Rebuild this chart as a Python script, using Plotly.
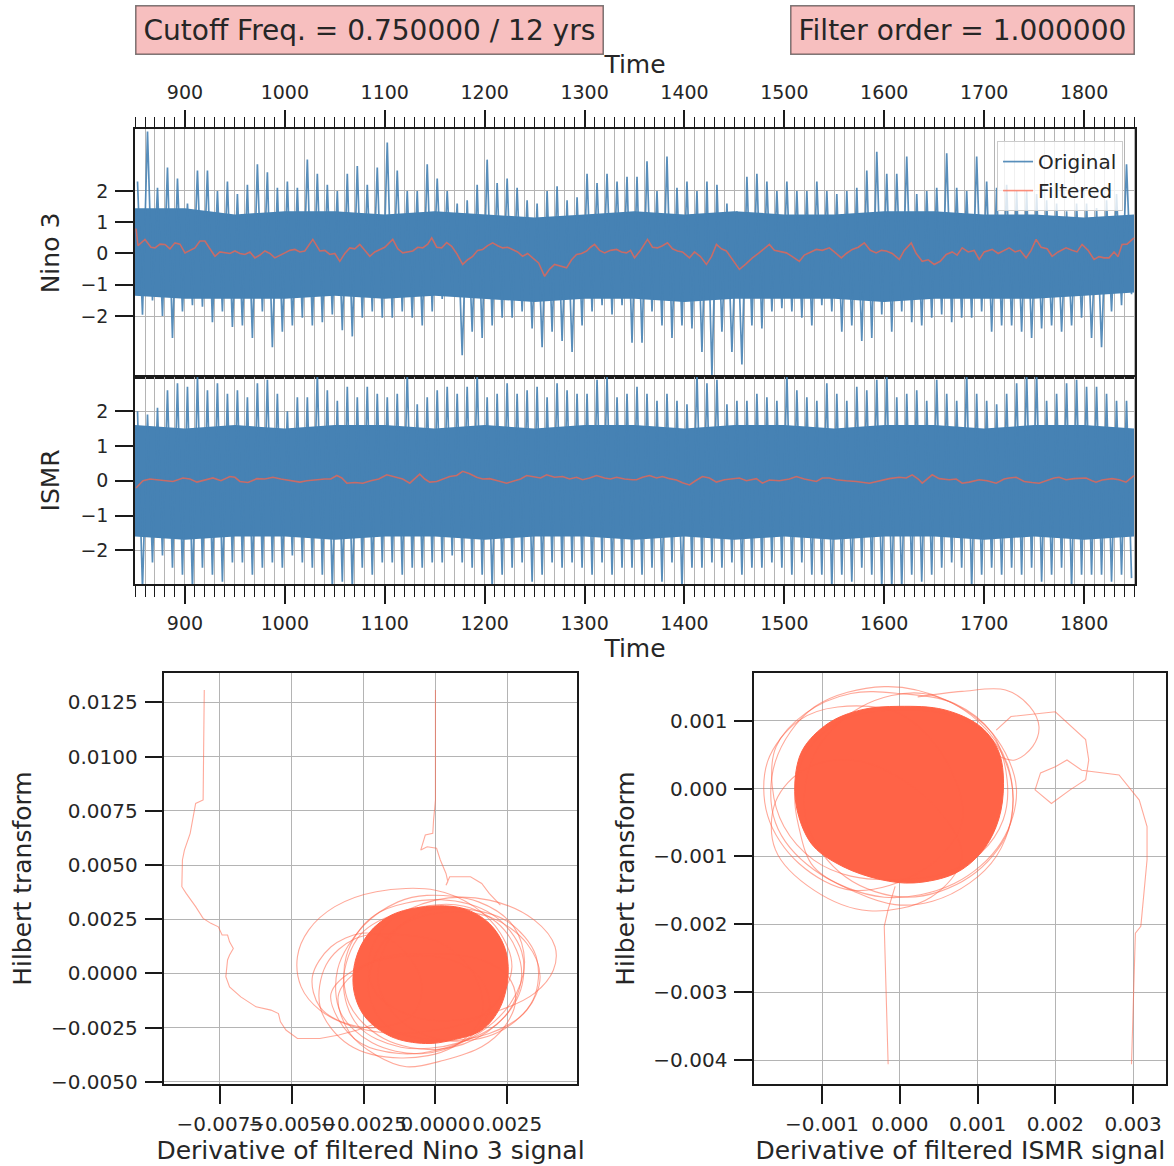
import plotly.graph_objects as go

# ---------------- data ----------------
decades = list(range(850, 1850, 10))

nino_hi = [2.3, 3.9, 2.1, 2.75, 2.4, 1.6, 2.65, 2.65, 2.0, 2.3,
           1.9, 2.2, 2.85, 2.6, 2.1, 2.3, 2.1, 3.0, 2.55, 2.2,
           2.0, 2.55, 2.8, 2.2, 2.75, 3.55, 2.65, 2.0, 2.0, 2.85,
           2.4, 2.0, 1.6, 1.7, 2.2, 3.0, 2.25, 2.4, 2.1, 1.7,
           1.6, 2.0, 2.15, 1.7, 1.8, 2.55, 2.25, 2.55, 2.3, 2.45,
           2.45, 2.95, 2.0, 3.1, 2.1, 2.3, 2.0, 2.3, 2.2, 1.6,
           1.35, 2.45, 2.55, 2.3, 2.0, 2.3, 2.0, 2.0, 2.3, 2.0,
           1.9, 2.0, 2.1, 2.65, 3.25, 2.55, 2.55, 3.1, 1.9, 2.0,
           2.1, 3.2, 2.1, 2.0, 3.1, 2.3, 2.1, 2.2, 2.0, 2.0,
           1.9, 1.7, 1.6, 1.35, 1.6, 1.6, 1.45, 1.7, 1.9, 2.85]
nino_lo = [-1.96, -1.5, -2.0, -2.7, -1.85, -1.65, -1.7, -2.2, -1.85, -2.35,
           -2.3, -2.7, -1.85, -3.0, -2.5, -2.3, -2.05, -2.3, -2.2, -1.95,
           -2.45, -2.65, -2.05, -1.85, -2.05, -2.05, -1.85, -2.05, -2.3, -1.85,
           -1.45, -1.2, -3.25, -2.5, -2.7, -2.3, -2.05, -2.05, -1.85, -2.4,
           -3.0, -2.5, -2.8, -3.15, -2.3, -1.85, -1.65, -1.95, -1.65, -2.85,
           -2.85, -1.85, -2.3, -2.7, -2.3, -2.4, -3.15, -3.9, -2.5, -3.15,
           -3.55, -2.3, -2.4, -1.85, -1.75, -1.85, -2.05, -2.3, -1.65, -1.85,
           -2.5, -2.3, -2.8, -2.7, -1.95, -2.5, -1.85, -2.2, -2.3, -2.05,
           -1.95, -2.2, -2.05, -2.05, -1.85, -2.5, -2.3, -2.3, -2.5, -2.7,
           -2.4, -2.3, -2.5, -2.3, -2.05, -2.7, -3.0, -1.85, -1.65, -1.3]

ismr_hi = [2.0, 1.9, 2.1, 2.6, 2.8, 2.7, 3.0, 2.6, 2.8, 2.5,
           2.6, 2.4, 2.8, 2.9, 2.5, 2.0, 2.4, 2.4, 3.1, 2.6,
           2.3, 2.7, 2.4, 2.7, 2.5, 2.4, 2.5, 3.1, 2.2, 2.4,
           2.6, 2.7, 2.5, 2.7, 3.1, 2.4, 2.5, 2.8, 2.5, 2.6,
           2.7, 2.4, 2.8, 2.6, 2.5, 2.5, 2.9, 3.0, 2.4, 2.5,
           2.7, 2.5, 2.3, 2.5, 2.3, 2.2, 3.1, 2.8, 2.9, 2.2,
           2.3, 2.3, 2.5, 2.4, 2.3, 3.1, 2.6, 2.4, 2.3, 2.8,
           2.5, 2.3, 2.7, 2.6, 2.9, 3.1, 2.4, 2.5, 2.6, 2.3,
           2.9, 2.5, 2.3, 3.1, 2.5, 2.3, 2.2, 2.5, 2.8, 3.1,
           3.1, 2.3, 2.5, 2.8, 2.9, 2.7, 2.7, 2.5, 2.3, 2.3]
ismr_lo = [-3.1, -2.35, -2.15, -2.5, -2.7, -3.1, -2.5, -2.7, -2.9, -2.35,
           -2.35, -2.7, -2.5, -2.35, -2.5, -2.15, -2.35, -2.5, -2.7, -3.1,
           -2.9, -3.1, -2.5, -2.7, -2.35, -2.35, -2.7, -2.5, -2.5, -2.35,
           -2.35, -2.15, -2.35, -2.5, -2.7, -3.1, -2.7, -2.5, -2.35, -2.9,
           -2.7, -2.35, -2.5, -2.35, -2.5, -2.7, -2.35, -2.7, -2.5, -2.5,
           -2.7, -2.5, -2.9, -2.35, -3.1, -2.5, -2.5, -2.35, -2.5, -2.35,
           -2.7, -2.5, -2.5, -2.35, -2.5, -2.7, -2.35, -2.7, -2.7, -3.1,
           -2.7, -2.9, -2.5, -2.7, -3.1, -3.1, -3.1, -2.7, -2.9, -2.7,
           -2.5, -2.35, -2.5, -3.1, -2.7, -2.5, -2.7, -2.5, -2.7, -2.5,
           -2.9, -2.7, -2.5, -3.1, -2.7, -2.7, -2.7, -2.9, -2.7, -2.8]

core_years = list(range(850, 1851, 50))
nino_core_hi = [1.45, 1.45, 1.25, 1.35, 1.35, 1.25, 1.35, 1.25, 1.15, 1.25, 1.35,
                1.25, 1.35, 1.25, 1.25, 1.35, 1.35, 1.25, 1.25, 1.15, 1.25]
nino_core_lo = [-1.35, -1.45, -1.45, -1.45, -1.35, -1.45, -1.35, -1.45, -1.55, -1.45, -1.45,
                -1.55, -1.45, -1.45, -1.45, -1.55, -1.45, -1.45, -1.45, -1.35, -1.25]
ismr_core_hi = [1.6, 1.5, 1.6, 1.5, 1.6, 1.6, 1.5, 1.6, 1.5, 1.6, 1.6,
                1.5, 1.6, 1.6, 1.5, 1.6, 1.6, 1.5, 1.6, 1.6, 1.5]
ismr_core_lo = [-1.6, -1.7, -1.6, -1.6, -1.7, -1.6, -1.6, -1.7, -1.6, -1.6, -1.7,
                -1.6, -1.7, -1.6, -1.7, -1.6, -1.6, -1.7, -1.6, -1.7, -1.6]

nino_f_years = [851, 853, 860, 866, 870, 875, 880, 885, 890, 895, 900, 905, 910, 915, 920, 925,
                930, 935, 940, 945, 950, 955, 960, 965, 970, 975, 980, 985, 990, 995, 1000,
                1005, 1010, 1015, 1020, 1028, 1035, 1040, 1045, 1050, 1055, 1060, 1065, 1070,
                1075, 1080, 1085, 1090, 1095, 1100, 1108, 1113, 1118, 1123, 1128, 1133, 1138,
                1143, 1147, 1152, 1157, 1162, 1167, 1172, 1178, 1183, 1188, 1193, 1198, 1203,
                1208, 1213, 1218, 1223, 1228, 1233, 1238, 1243, 1248, 1254, 1260, 1265, 1270,
                1276, 1282, 1287, 1292, 1297, 1302, 1306, 1310, 1315, 1320, 1326, 1332, 1337,
                1342, 1346, 1350, 1356, 1363, 1368, 1373, 1378, 1383, 1388, 1393, 1398, 1405,
                1410, 1416, 1422, 1427, 1432, 1437, 1442, 1448, 1455, 1461, 1468, 1474, 1480,
                1485, 1490, 1496, 1502, 1508, 1515, 1520, 1526, 1532, 1538, 1545, 1550, 1557,
                1562, 1568, 1574, 1580, 1586, 1592, 1597, 1602, 1608, 1615, 1620, 1627, 1632,
                1638, 1644, 1650, 1656, 1662, 1668, 1673, 1678, 1684, 1690, 1695, 1700, 1708,
                1714, 1720, 1725, 1731, 1736, 1742, 1747, 1752, 1757, 1763, 1768, 1774, 1782,
                1788, 1793, 1798, 1804, 1810, 1815, 1820, 1825, 1830, 1834, 1838, 1843, 1850]
nino_f_vals = [0.8, 0.25, 0.45, 0.2, 0.18, 0.3, 0.29, 0.15, 0.34, 0.3, 0.02, 0.1, 0.18, 0.4, 0.4, 0.15,
               -0.09, 0.05, 0.02, 0.0, 0.08, 0.0, -0.03, 0.05, -0.14, -0.05, 0.08, 0.0, -0.14, -0.05, 0.02,
               0.1, 0.13, 0.05, 0.08, 0.45, 0.08, 0.1, -0.03, 0.0, -0.25, 0.0, 0.18, 0.15,
               0.29, 0.1, -0.09, 0.05, 0.13, 0.2, 0.45, 0.15, 0.02, 0.05, 0.08, 0.2, 0.18,
               0.3, 0.5, 0.2, 0.18, 0.35, 0.23, 0.0, -0.35, -0.2, -0.09, 0.1, 0.13, 0.25,
               0.34, 0.25, 0.18, 0.2, 0.13, 0.05, -0.09, 0.0, -0.14, -0.3, -0.73, -0.5, -0.35,
               -0.4, -0.46, -0.2, -0.03, 0.0, 0.08, 0.2, 0.29, 0.1, 0.02, 0.1, 0.13, 0.05,
               0.02, 0.1, -0.14, 0.1, 0.45, 0.2, 0.18, 0.25, 0.34, 0.15, 0.08, 0.05, -0.14,
               0.05, -0.1, -0.35, -0.1, 0.29, 0.15, 0.08, -0.2, -0.51, -0.35, -0.14, 0.0, 0.15,
               0.29, 0.1, 0.05, 0.02, -0.1, -0.25, -0.05, 0.05, 0.13, 0.1, 0.18, 0.05, -0.14,
               0.0, 0.13, 0.2, 0.34, 0.1, 0.02, 0.1, 0.08, 0.0, -0.19, 0.1, 0.34, 0.0,
               -0.25, -0.2, -0.35, -0.25, -0.03, 0.05, -0.05, 0.18, 0.05, 0.1, -0.19, 0.05, 0.13,
               0.0, 0.1, 0.18, 0.05, 0.1, -0.14, 0.1, 0.45, 0.2, 0.15, -0.09, 0.05, 0.18,
               0.1, 0.05, 0.29, 0.1, -0.19, -0.1, -0.14, -0.14, 0.05, -0.1, 0.29, 0.3, 0.5]

ismr_f_years = [851, 858, 865, 872, 880, 888, 898, 905, 912, 920, 928, 936, 945, 950, 955, 963,
                972, 980, 988, 996, 1005, 1015, 1022, 1032, 1040, 1046, 1052, 1057, 1062, 1070,
                1078, 1086, 1094, 1102, 1110, 1118, 1125, 1130, 1135, 1140, 1145, 1152, 1158,
                1165, 1172, 1178, 1185, 1192, 1198, 1205, 1213, 1222, 1230, 1236, 1242, 1250,
                1256, 1262, 1270, 1278, 1285, 1292, 1298, 1305, 1312, 1320, 1326, 1332, 1340,
                1348, 1352, 1358, 1365, 1372, 1378, 1385, 1392, 1398, 1405, 1411, 1418, 1425,
                1432, 1440, 1448, 1455, 1462, 1472, 1478, 1485, 1495, 1505, 1512, 1520, 1532,
                1538, 1545, 1552, 1562, 1572, 1585, 1595, 1605, 1615, 1622, 1628, 1634, 1638,
                1643, 1648, 1655, 1665, 1672, 1678, 1685, 1695, 1703, 1712, 1720, 1725, 1732,
                1740, 1748, 1755, 1762, 1770, 1775, 1782, 1790, 1795, 1802, 1808, 1812, 1818,
                1828, 1835, 1842, 1850]
ismr_f_vals = [-0.21, 0.0, 0.05, 0.03, 0.0, -0.02, 0.08, 0.05, -0.04, 0.03, 0.08, 0.0, 0.12, 0.1, -0.02, -0.05,
               0.06, 0.05, 0.1, 0.05, 0.0, -0.04, 0.0, 0.03, 0.05, 0.05, 0.15, 0.08, -0.07, -0.05,
               -0.07, 0.0, 0.05, 0.17, 0.1, 0.05, -0.07, 0.05, 0.19, 0.05, -0.04, -0.02, 0.05,
               0.12, 0.15, 0.27, 0.2, 0.1, 0.05, 0.06, 0.0, -0.07, 0.0, 0.05, 0.15, 0.1,
               0.08, 0.17, 0.1, 0.12, 0.05, 0.1, 0.03, 0.08, 0.15, 0.08, 0.05, 0.1, 0.05,
               0.03, 0.03, 0.1, 0.15, 0.08, 0.12, 0.06, 0.02, -0.06, -0.12, 0.0, 0.12, 0.08,
               -0.04, 0.03, 0.05, 0.08, 0.0, 0.06, -0.07, 0.02, 0.0, 0.05, 0.12, 0.05, -0.02,
               0.08, 0.08, 0.03, 0.0, -0.02, -0.07, 0.0, 0.06, 0.1, 0.08, 0.17, 0.05, -0.07,
               0.05, 0.17, 0.06, 0.03, 0.05, -0.07, -0.04, 0.03, 0.0, -0.07, 0.05, 0.08, 0.1,
               -0.02, -0.05, -0.07, 0.0, 0.08, 0.1, 0.03, 0.06, 0.06, 0.08, 0.0, -0.04, 0.02,
               0.06, 0.03, -0.04, 0.15]

# phase plot (left): tails, loops and dense core
nl_tail1_x = [-0.00804, -0.00808, -0.00834, -0.00840, -0.00853, -0.00873, -0.00880, -0.00882,
              -0.00867, -0.00834, -0.00808, -0.00781, -0.00755, -0.00742, -0.00723, -0.00716,
              -0.00703, -0.00716, -0.00723, -0.00729, -0.00716, -0.00677, -0.00624, -0.00572,
              -0.00546, -0.00539, -0.00520, -0.00480, -0.00402, -0.00336, -0.00271, -0.00206]
nl_tail1_y = [0.01307, 0.00800, 0.00784, 0.00738, 0.00646, 0.00569, 0.00523, 0.00400,
              0.00369, 0.00308, 0.00254, 0.00231, 0.00215, 0.00177, 0.00177, 0.00146,
              0.00115, 0.00085, 0.00062, -0.00015, -0.00062, -0.00108, -0.00154, -0.00169,
              -0.00185, -0.00223, -0.00261, -0.00300, -0.00300, -0.00284, -0.00261, -0.00231]
nl_tail2_x = [0.0, 0.0, -0.000065, -0.000092, -0.000353, -0.000419, -0.000511, -0.000288,
              0.000039, 0.000170, 0.000367, 0.000432, 0.000367, 0.000497, 0.00122, 0.00161,
              0.00187, 0.00226]
nl_tail2_y = [0.01307, 0.00800, 0.00707, 0.00646, 0.00638, 0.00607, 0.00569, 0.00584,
              0.00577, 0.00523, 0.00461, 0.00423, 0.00407, 0.00446, 0.00446, 0.00415,
              0.00369, 0.00315]
nl_loops = [
    ([0.0, -0.00206, -0.00350, -0.00441, -0.00480, -0.00467, -0.00402, -0.00284, -0.00140, 0.0,
      0.00135, 0.00226, 0.00266, 0.00226, 0.00135],
     [0.00384, 0.00377, 0.00308, 0.00200, 0.00077, -0.00062, -0.00169, -0.00246, -0.00277, -0.00261,
      -0.00215, -0.00108, 0.00031, 0.00185, 0.00308]),
    ([0.0, 0.00187, 0.00344, 0.00416, 0.00410, 0.00344, 0.00226, 0.00082, -0.00075, -0.00206,
      -0.00232, -0.00166],
     [0.00338, 0.00338, 0.00246, 0.00123, 0.00015, -0.00092, -0.00169, -0.00215, -0.00200, -0.00092,
      0.00062, 0.00231]),
    ([-0.00336, -0.00297, -0.00206, -0.00101, 0.00030, 0.00161, 0.00240, 0.00279, 0.00253, 0.00161,
      -0.00009, -0.00206],
     [-0.00092, -0.00277, -0.00377, -0.00430, -0.00400, -0.00338, -0.00246, -0.00123, -0.00015, 0.00062,
      0.00092, 0.00062]),
    ([-0.00258, -0.00363, -0.00428, -0.00402, -0.00310, -0.00179, -0.00075, -0.00048, -0.00101, -0.00179],
     [0.00185, 0.00123, -0.00015, -0.00154, -0.00231, -0.00246, -0.00185, -0.00046, 0.00092, 0.00169]),
    ([0.0, 0.00187, 0.00318, 0.00364, 0.00318, 0.00187, 0.0, -0.00166, -0.00232, -0.00206, -0.00127],
     [0.00277, 0.00261, 0.00138, -0.00015, -0.00169, -0.00277, -0.00308, -0.00246, -0.00092, 0.00092,
      0.00215]),
    ([-0.00363, -0.00336, -0.00258, -0.00127, 0.00004, 0.00122, 0.00187, 0.00161, 0.00056, -0.00127,
      -0.00284],
     [-0.00092, -0.00215, -0.00323, -0.00369, -0.00354, -0.00292, -0.00169, -0.00031, 0.00062, 0.00077,
      0.00015]),
    ([-0.0003, 0.0015, 0.0027, 0.0031, 0.0026, 0.0012, -0.0005, -0.0022, -0.0033, -0.0034, -0.0025, -0.0013],
     [0.0036, 0.0033, 0.0022, 0.0005, -0.0014, -0.0030, -0.0037, -0.0032, -0.0018, 0.0002, 0.0022, 0.0033]),
    ([0.0002, 0.0020, 0.0030, 0.0029, 0.0018, 0.0001, -0.0018, -0.0030, -0.0031, -0.0021],
     [0.0034, 0.0027, 0.0010, -0.0010, -0.0027, -0.0035, -0.0030, -0.0014, 0.0008, 0.0027]),
    ([0.0008, 0.0025, 0.0035, 0.0034, 0.0022, 0.0004, -0.0012, -0.0020, -0.0016, -0.0005],
     [0.0030, 0.0024, 0.0008, -0.0012, -0.0027, -0.0031, -0.0022, -0.0004, 0.0016, 0.0028]),
    ([-0.0015, 0.0002, 0.0014, 0.0016, 0.0006, -0.0012, -0.0030, -0.0040, -0.0038, -0.0028],
     [0.0018, 0.0014, -0.0002, -0.0020, -0.0034, -0.0039, -0.0033, -0.0016, 0.0004, 0.0016]),
    ([-0.0010, 0.0010, 0.0024, 0.0030, 0.0024, 0.0008, -0.0012, -0.0027, -0.0032, -0.0026],
     [0.0029, 0.0031, 0.0020, 0.0000, -0.0020, -0.0032, -0.0034, -0.0024, -0.0004, 0.0018]),
]
nl_core_x = [-0.00035, 0.00096, 0.00187, 0.00240, 0.00253, 0.00226, 0.00161, 0.00056, -0.00035,
             -0.00153, -0.00245, -0.00284, -0.00278, -0.00232, -0.00153]
nl_core_y = [0.00308, 0.00300, 0.00231, 0.00123, 0.0, -0.00154, -0.00261, -0.00308, -0.00323,
             -0.00292, -0.00200, -0.00077, 0.00062, 0.00185, 0.00269]

# phase plot (right)
ir_core_x = [-0.00001, 0.00057, 0.00104, 0.00128, 0.00133, 0.00124, 0.00104, 0.00071, 0.00018,
             -0.00025, -0.00073, -0.00111, -0.00130, -0.00135, -0.00125, -0.00092, -0.00049]
ir_core_y = [0.00121, 0.00116, 0.00091, 0.00052, -0.00007, -0.00056, -0.00095, -0.00125, -0.00139,
             -0.00134, -0.00115, -0.00085, -0.00041, 0.00008, 0.00057, 0.00096, 0.00116]
ir_loops = [
    ([-0.00001, -0.00063, -0.00121, -0.00159, -0.00164, -0.00149, -0.00111, -0.00063, -0.00001,
      0.00057, 0.00104, 0.00133, 0.00138, 0.00119, 0.00071],
     [0.00140, 0.00140, 0.00111, 0.00062, 0.00003, -0.00056, -0.00105, -0.00129, -0.00134,
      -0.00125, -0.00095, -0.00046, 0.00013, 0.00081, 0.00125]),
    ([-0.00130, -0.00111, -0.00054, -0.00006, 0.00042, 0.00090, 0.00124, 0.00143, 0.00143, 0.00119,
      0.00071, -0.00001, -0.00073, -0.00121, -0.00135],
     [-0.00056, -0.00115, -0.00154, -0.00171, -0.00166, -0.00139, -0.00100, -0.00046, 0.00013, 0.00072,
      0.00106, 0.00116, 0.00101, 0.00052, -0.00007]),
    ([-0.0002, 0.0006, 0.0012, 0.0015, 0.0013, 0.0007, -0.0002, -0.0011, -0.0016, -0.0016, -0.0011],
     [0.0015, 0.0013, 0.0008, 0.0000, -0.0008, -0.0014, -0.0016, -0.0012, -0.0005, 0.0004, 0.0012]),
    ([-0.0008, 0.0000, 0.0006, 0.0008, 0.0003, -0.0006, -0.0013, -0.0017, -0.0017, -0.0013],
     [0.0012, 0.0011, 0.0004, -0.0005, -0.0012, -0.0015, -0.0011, -0.0004, 0.0004, 0.0010]),
    ([0.0003, 0.0010, 0.0014, 0.0014, 0.0009, 0.0001, -0.0007, -0.0012, -0.0011, -0.0005],
     [0.0014, 0.0010, 0.0003, -0.0006, -0.0013, -0.0016, -0.0013, -0.0005, 0.0005, 0.0012]),
    ([-0.0005, 0.0004, 0.0008, 0.0004, -0.0004, -0.0011, -0.0016, -0.0016, -0.0012],
     [0.0004, -0.0002, -0.0010, -0.0016, -0.0018, -0.0015, -0.0009, -0.0002, 0.0003]),
]
ir_arc_x = [0.00023, 0.00080, 0.00136, 0.00167, 0.00179, 0.00171, 0.00148, 0.00128]
ir_arc_y = [0.00135, 0.00143, 0.00145, 0.00121, 0.00091, 0.00062, 0.00042, 0.00047]
ir_tail1_x = [0.00124, 0.00143, 0.00200, 0.00239, 0.00243, 0.00239, 0.00219, 0.00195, 0.00174,
              0.00181, 0.00200, 0.00215, 0.00234, 0.00282, 0.00308, 0.00318, 0.00318, 0.00310,
              0.00303, 0.00302, 0.00300, 0.00298]
ir_tail1_y = [0.00086, 0.00106, 0.00113, 0.00072, 0.00042, 0.00013, -0.00002, -0.00022, -0.00002,
              0.00023, 0.00032, 0.00042, 0.00027, 0.00020, -0.00017, -0.00056, -0.00105, -0.00203,
              -0.00213, -0.00252, -0.00325, -0.00406]
ir_tail2_x = [-0.00006, -0.00015, -0.00020, -0.00018, -0.00015]
ir_tail2_y = [-0.00144, -0.00178, -0.00203, -0.00301, -0.00406]

# ticks
time_ticks = list(range(900, 1801, 100))
sig_ticks = [-2, -1, 0, 1, 2]
nl_xticks = [-0.0075, -0.005, -0.0025, 0.0, 0.0025]
nl_xlabels = ["\u22120.0075", "\u22120.0050", "\u22120.0025", "0.0000", "0.0025"]
nl_yticks = [-0.005, -0.0025, 0.0, 0.0025, 0.005, 0.0075, 0.01, 0.0125]
nl_ylabels = ["\u22120.0050", "\u22120.0025", "0.0000", "0.0025", "0.0050", "0.0075", "0.0100", "0.0125"]
ir_xticks = [-0.001, 0.0, 0.001, 0.002, 0.003]
ir_xlabels = ["\u22120.001", "0.000", "0.001", "0.002", "0.003"]
ir_yticks = [-0.004, -0.003, -0.002, -0.001, 0.0, 0.001]
ir_ylabels = ["\u22120.004", "\u22120.003", "\u22120.002", "\u22120.001", "0.000", "0.001"]

# ---------------- styling ----------------
BLUE = "#4682b4"
BLUE_LINE = "rgba(70,130,180,0.9)"
RED_F = "rgba(255,99,71,0.7)"
RED_P = "rgba(255,99,71,0.55)"
RED_CORE = "#ff6347"
GRID = "#b4b4b4"
AX = "#1a1a1a"
TXT = "#262626"
FONT = "DejaVu Sans"

fig = go.Figure()


def zigzag(hi, lo):
    xs, ys = [], []
    for d, h, l in zip(decades, hi, lo):
        xs += [d + 2.5, d + 7.5]
        ys += [h, l]
    return xs, ys


def add_series(hi, lo, core_hi, core_lo, fy, fv, xa, ya, legend):
    fig.add_trace(go.Scatter(x=core_years, y=core_lo, mode="lines", line=dict(width=0, color=BLUE),
                             showlegend=False, hoverinfo="skip", xaxis=xa, yaxis=ya))
    fig.add_trace(go.Scatter(x=core_years, y=core_hi, mode="lines", line=dict(width=0, color=BLUE),
                             fill="tonexty", fillcolor=BLUE, showlegend=False, hoverinfo="skip",
                             xaxis=xa, yaxis=ya))
    zx, zy = zigzag(hi, lo)
    fig.add_trace(go.Scatter(x=zx, y=zy, mode="lines", name="Original",
                             line=dict(width=1.7, color=BLUE_LINE), showlegend=legend,
                             xaxis=xa, yaxis=ya))
    fig.add_trace(go.Scatter(x=fy, y=fv, mode="lines", name="Filtered",
                             line=dict(width=1.6, color=RED_F), showlegend=legend,
                             xaxis=xa, yaxis=ya))


add_series(nino_hi, nino_lo, nino_core_hi, nino_core_lo, nino_f_years, nino_f_vals, "x", "y", True)
add_series(ismr_hi, ismr_lo, ismr_core_hi, ismr_core_lo, ismr_f_years, ismr_f_vals, "x2", "y2", False)


def add_phase(core_x, core_y, loops, lines, xa, ya):
    fig.add_trace(go.Scatter(x=core_x + core_x[:1], y=core_y + core_y[:1], mode="lines",
                             fill="toself", fillcolor=RED_CORE,
                             line=dict(width=1, color=RED_CORE, shape="spline", smoothing=1),
                             showlegend=False, xaxis=xa, yaxis=ya))
    for lx, ly in loops:
        fig.add_trace(go.Scatter(x=lx + lx[:1], y=ly + ly[:1], mode="lines",
                                 line=dict(width=1.1, color=RED_P, shape="spline", smoothing=1),
                                 showlegend=False, xaxis=xa, yaxis=ya))
    for lx, ly, shp in lines:
        fig.add_trace(go.Scatter(x=lx, y=ly, mode="lines",
                                 line=dict(width=1.1, color=RED_P, shape=shp),
                                 showlegend=False, xaxis=xa, yaxis=ya))


add_phase(nl_core_x, nl_core_y, nl_loops,
          [(nl_tail1_x, nl_tail1_y, "linear"), (nl_tail2_x, nl_tail2_y, "linear")], "x3", "y3")
add_phase(ir_core_x, ir_core_y, ir_loops,
          [(ir_arc_x, ir_arc_y, "spline"), (ir_tail1_x, ir_tail1_y, "linear"),
           (ir_tail2_x, ir_tail2_y, "linear")], "x4", "y4")

common = dict(showline=True, linecolor=AX, linewidth=1.6, mirror=True, ticks="outside",
              ticklen=18, tickwidth=1.5, tickcolor=AX, showgrid=True, gridcolor=GRID, gridwidth=1,
              zeroline=False, automargin=False, ticklabelstandoff=3, tickangle=0)

time_axis = dict(common, range=[850, 1851], tickvals=time_ticks,
                 tickfont=dict(size=19, color=TXT, family=FONT),
                 minor=dict(dtick=10, tick0=0, ticks="outside", ticklen=11, tickwidth=1.3,
                            tickcolor=AX, showgrid=True, gridcolor=GRID, gridwidth=1))

fig.update_layout(
    width=1174, height=1166, margin=dict(l=0, r=0, t=0, b=0),
    paper_bgcolor="white", plot_bgcolor="white",
    font=dict(family=FONT, color=TXT),
    showlegend=True,
    legend=dict(x=0.9566, xanchor="right", y=0.879, yanchor="top", traceorder="normal",
                bgcolor="rgba(255,255,255,0.8)", bordercolor="#cccccc", borderwidth=1,
                font=dict(size=20, color=TXT, family=FONT), tracegroupgap=0),
    xaxis=dict(time_axis, domain=[0.1150, 0.9668], anchor="y", side="top",
               title=dict(text="Time", font=dict(size=25, color=TXT), standoff=0)),
    yaxis=dict(common, domain=[0.6769, 0.8891], anchor="x", range=[-3.94, 3.97],
               tickvals=sig_ticks, tickfont=dict(size=19, color=TXT),
               title=dict(text="Nino 3", font=dict(size=25, color=TXT), standoff=14)),
    xaxis2=dict(time_axis, domain=[0.1150, 0.9668], anchor="y2", side="bottom",
                title=dict(text="Time", font=dict(size=25, color=TXT), standoff=4)),
    yaxis2=dict(common, domain=[0.4991, 0.6769], anchor="x2", range=[-2.97, 2.99],
                tickvals=sig_ticks, tickfont=dict(size=19, color=TXT),
                title=dict(text="ISMR", font=dict(size=25, color=TXT), standoff=14)),
    xaxis3=dict(common, domain=[0.1401, 0.4911], anchor="y3", range=[-0.009424, 0.004908],
                tickvals=nl_xticks, ticktext=nl_xlabels, tickfont=dict(size=20, color=TXT),
                title=dict(text="Derivative of filtered Nino 3 signal", font=dict(size=25, color=TXT),
                           standoff=6)),
    yaxis3=dict(common, domain=[0.0699, 0.4231], anchor="x3", range=[-0.00512, 0.013868],
                tickvals=nl_yticks, ticktext=nl_ylabels, tickfont=dict(size=20, color=TXT),
                title=dict(text="Hilbert transform", font=dict(size=25, color=TXT), standoff=12)),
    xaxis4=dict(common, domain=[0.6424, 0.9936], anchor="y4", range=[-0.001873, 0.00343],
                tickvals=ir_xticks, ticktext=ir_xlabels, tickfont=dict(size=20, color=TXT),
                title=dict(text="Derivative of filtered ISMR signal", font=dict(size=25, color=TXT),
                           standoff=6)),
    yaxis4=dict(common, domain=[0.0699, 0.4231], anchor="x4", range=[-0.004358, 0.001706],
                tickvals=ir_yticks, ticktext=ir_ylabels, tickfont=dict(size=20, color=TXT),
                title=dict(text="Hilbert transform", font=dict(size=25, color=TXT), standoff=12)),
    annotations=[
        dict(text="Cutoff Freq. = 0.750000 / 12 yrs", xref="paper", yref="paper",
             x=0.1150, xanchor="left", y=0.9957, yanchor="top", showarrow=False,
             font=dict(size=28, color=TXT, family=FONT), bgcolor="rgba(240,128,128,0.5)",
             bordercolor="rgba(0,0,0,0.5)", borderwidth=1.5, borderpad=7),
        dict(text="Filter order = 1.000000", xref="paper", yref="paper",
             x=0.9668, xanchor="right", y=0.9957, yanchor="top", showarrow=False,
             font=dict(size=28, color=TXT, family=FONT), bgcolor="rgba(240,128,128,0.5)",
             bordercolor="rgba(0,0,0,0.5)", borderwidth=1.5, borderpad=7),
    ],
)

fig.write_html("out.html")
